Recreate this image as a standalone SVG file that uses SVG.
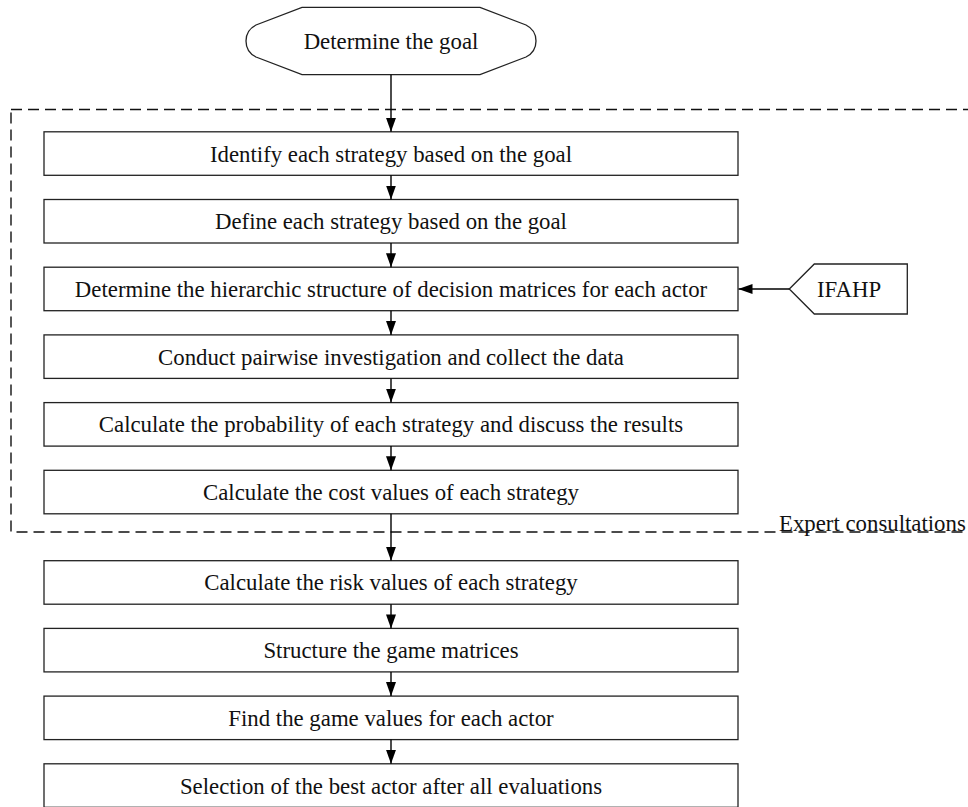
<svg xmlns="http://www.w3.org/2000/svg" width="968" height="807" viewBox="0 0 968 807">
<defs>
<style>
.box{fill:#fff;stroke:#222;stroke-width:1.3}
.t{font-family:"Liberation Serif","Times New Roman",serif;font-size:22.8px;fill:#111;text-anchor:middle}
.c{stroke:#000;stroke-width:1.4;fill:none}
.dash{fill:none;stroke:#111;stroke-width:1.4;stroke-dasharray:11 6}
</style>
<marker id="ah" viewBox="0 0 14 10" refX="14" refY="5" markerWidth="14" markerHeight="10" markerUnits="userSpaceOnUse" orient="auto">
<path d="M0,0 L14,5 L0,10 Z" fill="#000"/>
</marker>
</defs>
<rect width="968" height="807" fill="#fff"/>
<g id="expert-consultations">
<rect class="dash" x="11" y="109.5" width="970" height="422.5"/>
<text class="t" x="779" y="531" style="text-anchor:start">Expert consultations</text>
</g>
<g id="goal">
<path class="box" d="M302,7.3 L480,7.3 L526,25 Q536,30 536,41 Q536,52 526,57 L480,74.7 L302,74.7 L256,57 Q246,52 246,41 Q246,30 256,25 Z"/>
<text class="t" x="391" y="48.5">Determine the goal</text>
</g>
<g id="n1"><rect class="box" x="44" y="131.8" width="694" height="43.5"/><text class="t" x="391" y="161.5">Identify each strategy based on the goal</text></g>
<g id="n2"><rect class="box" x="44" y="199.5" width="694" height="43.5"/><text class="t" x="391" y="229.2">Define each strategy based on the goal</text></g>
<g id="n3"><rect class="box" x="44" y="267.2" width="694" height="43.5"/><text class="t" x="391" y="296.9">Determine the hierarchic structure of decision matrices for each actor</text></g>
<g id="n4"><rect class="box" x="44" y="334.9" width="694" height="43.5"/><text class="t" x="391" y="364.6">Conduct pairwise investigation and collect the data</text></g>
<g id="n5"><rect class="box" x="44" y="402.6" width="694" height="43.5"/><text class="t" x="391" y="432.3">Calculate the probability of each strategy and discuss the results</text></g>
<g id="n6"><rect class="box" x="44" y="470.3" width="694" height="43.5"/><text class="t" x="391" y="500">Calculate the cost values of each strategy</text></g>
<g id="n7"><rect class="box" x="44" y="560.7" width="694" height="43.5"/><text class="t" x="391" y="590.4">Calculate the risk values of each strategy</text></g>
<g id="n8"><rect class="box" x="44" y="628.4" width="694" height="43.5"/><text class="t" x="391" y="658.1">Structure the game matrices</text></g>
<g id="n9"><rect class="box" x="44" y="696.1" width="694" height="43.5"/><text class="t" x="391" y="725.8">Find the game values for each actor</text></g>
<g id="n10"><rect class="box" x="44" y="763.8" width="694" height="43.5"/><text class="t" x="391" y="793.5">Selection of the best actor after all evaluations</text></g>
<g id="ifahp">
<path class="box" d="M789.3,289 L814.3,264 L907.3,264 L907.3,314 L814.3,314 Z"/>
<text class="t" x="849" y="296.5">IFAHP</text>
</g>
<g id="connectors">
<line class="c" x1="391" y1="74.7" x2="391" y2="131.8" marker-end="url(#ah)"/>
<line class="c" x1="391" y1="175.3" x2="391" y2="199.5" marker-end="url(#ah)"/>
<line class="c" x1="391" y1="243" x2="391" y2="267.2" marker-end="url(#ah)"/>
<line class="c" x1="391" y1="310.7" x2="391" y2="334.9" marker-end="url(#ah)"/>
<line class="c" x1="391" y1="378.4" x2="391" y2="402.6" marker-end="url(#ah)"/>
<line class="c" x1="391" y1="446.1" x2="391" y2="470.3" marker-end="url(#ah)"/>
<line class="c" x1="391" y1="513.8" x2="391" y2="560.7" marker-end="url(#ah)"/>
<line class="c" x1="391" y1="604.2" x2="391" y2="628.4" marker-end="url(#ah)"/>
<line class="c" x1="391" y1="671.9" x2="391" y2="696.1" marker-end="url(#ah)"/>
<line class="c" x1="391" y1="739.6" x2="391" y2="763.8" marker-end="url(#ah)"/>
<line class="c" x1="789.3" y1="289" x2="738.5" y2="289" marker-end="url(#ah)"/>
</g>
</svg>
